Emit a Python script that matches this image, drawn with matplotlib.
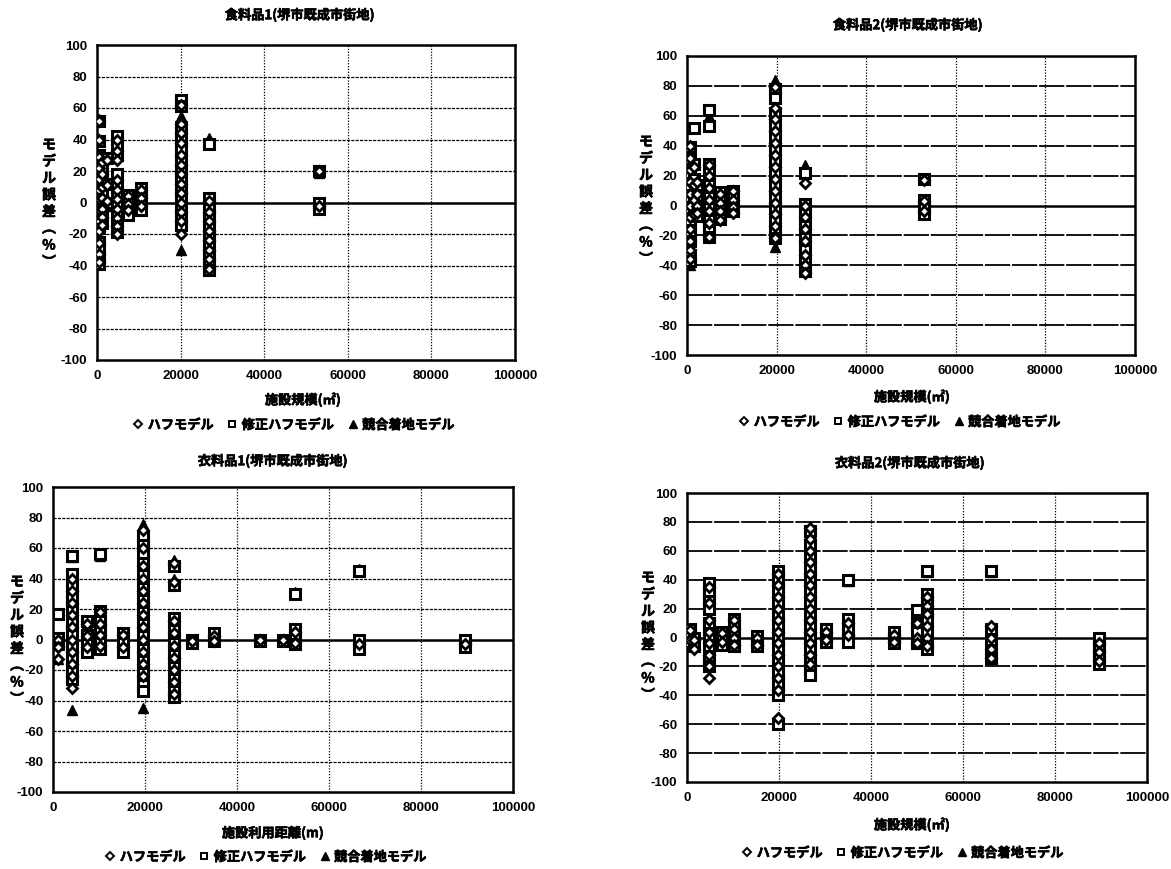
import matplotlib
matplotlib.use("Agg")
import matplotlib.pyplot as plt
from matplotlib.lines import Line2D
import matplotlib.patheffects as pe

plt.rcParams['font.family'] = ['Noto Sans CJK JP', 'DejaVu Sans']
plt.rcParams['font.weight'] = 'bold'

# ---------------- data ----------------
titles = ["食料品1(堺市既成市街地)", "食料品2(堺市既成市街地)",
          "衣料品1(堺市既成市街地)", "衣料品2(堺市既成市街地)"]
xlabels = ["施設規模(㎡)", "施設規模(㎡)", "施設利用距離(m)", "施設規模(㎡)"]
ylabel_chars = ["モ", "デ", "ル", "誤", "差", "︵", "%", "︶"]
series_names = ["ハフモデル", "修正ハフモデル", "競合着地モデル"]
x_ticks = [0, 20000, 40000, 60000, 80000, 100000]
y_ticks = [-100, -80, -60, -40, -20, 0, 20, 40, 60, 80, 100]

# 食料品1
f1_sizes = [400, 1300, 2300, 4800, 7500, 10500, 20000, 26800, 53000]
f1_huff = [[52, 40, 29, 22, 15, 8, 2, -5, -12, -18, -26, -33, -38],
           [26, 18, 10, 3, -4, -9, -14],
           [27, 11, 1],
           [40, 33, 27, 14, 8, 2, -4, -10, -15, -20],
           [4, -1, -5],
           [8, 3, -2],
           [62, 50, 44, 38, 30, 24, 18, 12, 6, 0, -6, -12, -20],
           [1, -6, -12, -18, -24, -30, -36, -42],
           [20, -2]]
f1_mod = [[52, 39, 30, 20, 12, 4, -4, -10, -16, -25, -30, -36, -39],
          [28, 22, 14, 6, 0, -7, -13],
          [28, 12, 0],
          [42, 36, 30, 18, 10, 4, -2, -8, -14, -19],
          [5, 0, -4, -8],
          [9, 4, 0, -5],
          [65, 61, 48, 40, 34, 27, 21, 15, 9, 3, -3, -9, -14],
          [37, 3, -4, -10, -16, -22, -28, -34, -40, -43],
          [20, 0, -4]]
f1_comp = [[53, 28, 14, 0, -16, -38],
           [27, 8, -10],
           [12, -2],
           [18, 6, -6, -12],
           [2, -6],
           [6, -3],
           [55, 46, 36, 20, 8, -4, -30],
           [41, 2, -20, -40],
           [19, -1]]

# 食料品2
f2_sizes = [600, 1500, 2200, 4900, 7400, 10200, 19700, 26300, 53000]
f2_huff = [[40, 32, 24, 16, 8, 0, -8, -16, -24, -30, -36],
           [26, 14, 4, -6],
           [16, 8, 0, -5],
           [27, 20, 12, 4, -4, -12, -21],
           [8, 2, -4, -10],
           [10, 4, -1, -5],
           [79, 65, 58, 50, 42, 34, 26, 18, 10, 2, -6, -14, -22],
           [15, 0, -8, -16, -24, -33, -40, -45],
           [17, 3, -4]]
f2_mod = [[39, 31, 22, 14, 6, -2, -10, -18, -24, -33, -37],
          [52, 28, 18, 6, -2],
          [14, 6, -2, -7],
          [64, 53, 28, 22, 14, 6, -2, -10, -17, -21],
          [9, 3, -3, -9],
          [10, 5, 0, -4],
          [78, 72, 62, 54, 46, 38, 30, 22, 14, 6, -2, -10, -18, -22],
          [22, 1, -6, -14, -22, -30, -38, -44],
          [18, 4, -2, -6]]
f2_comp = [[40, 20, 0, -20, -40],
           [52, 12, -4],
           [12, -3],
           [60, 24, 0, -18],
           [6, -8],
           [8, -3],
           [84, 64, 40, 20, 0, -20, -28],
           [27, -2, -25, -43],
           [18, -3]]

# 衣料品1
c1_sizes = [1000, 4200, 7400, 10300, 15200, 19600, 26400, 30300, 34900,
            45000, 50000, 52500, 66500, 89500]
c1_huff = [[0, -5, -13],
           [40, 32, 24, 16, 8, 0, -8, -16, -24, -32],
           [10, 2, -5],
           [18, 10, 3, -4],
           [3, -5],
           [72, 60, 48, 40, 32, 24, 16, 8, 0, -8, -16, -24],
           [50, 38, 12, 4, -4, -12, -20, -28, -36],
           [-1],
           [2, -1],
           [0],
           [0],
           [5, -2],
           [-3],
           [-3]]
c1_mod = [[17, 1, -3],
          [55, 43, 35, 27, 19, 11, 3, -5, -13, -21, -26],
          [12, 3, -3, -8],
          [56, 19, 12, 5, -2, -6],
          [4, -2, -8],
          [68, 62, 57, 50, 42, 34, 26, 18, 10, 2, -6, -14, -22, -30, -34],
          [48, 36, 14, 6, -2, -10, -18, -26, -34, -38],
          [0, -2],
          [4, -1],
          [0, -1],
          [0, -1],
          [30, 7, 2, -3],
          [45, 0, -6],
          [0, -5]]
c1_comp = [[17, -13],
           [54, 22, 0, -22, -46],
           [11, -7],
           [55, 10, -4],
           [2, -8],
           [76, 66, 52, 41, 20, 0, -20, -45],
           [52, 40, 15, -10, -30],
           [-1],
           [3],
           [-1],
           [-1],
           [31, 5],
           [46, -4],
           [-2]]

# 衣料品2
c2_sizes = [700, 1500, 4800, 7600, 10300, 15300, 19700, 26800, 30300,
            35100, 45000, 50000, 52200, 66000, 89500]
c2_huff = [[5, -2],
           [-2, -8],
           [35, 24, 12, 4, -4, -12, -20, -28],
           [3, -3],
           [12, 6, 0, -5],
           [0, -5],
           [44, 36, 28, 20, 12, 4, -4, -12, -20, -28, -36, -56],
           [76, 68, 60, 52, 44, 36, 28, 20, 12, 4, -4, -12, -18],
           [4, -2],
           [10, 2],
           [2, -3],
           [10, 0, -4],
           [28, 22, 16, 8, 0, -6],
           [8, 0, -8, -14],
           [-4, -10, -16]]
c2_mod = [[6, 2, -3],
          [0, -6],
          [38, 31, 25, 20, 10, 2, -6, -14, -20],
          [4, -1, -5],
          [13, 8, 3, -2, -6],
          [1, -3, -6],
          [46, 40, 32, 24, 16, 8, 0, -8, -16, -24, -32, -40, -60],
          [74, 64, 56, 48, 40, 32, 24, 16, 8, 0, -8, -16, -22, -26],
          [6, 1, -3],
          [40, 13, 6, 0, -3],
          [4, 0, -4],
          [19, 10, 4, -4],
          [46, 30, 24, 19, 12, 4, -4, -8],
          [46, 6, -2, -9, -14],
          [0, -6, -12, -18]]
c2_comp = [[5, -4],
           [-3],
           [37, 10, -10],
           [1],
           [10, -4],
           [-2],
           [45, 20, -10, -38, -60],
           [75, 40, 0, -20],
           [3],
           [39, 8],
           [1],
           [18, 2],
           [45, 20, -5],
           [45, 4, -12],
           [-2, -15]]

panels = [
    (f1_sizes, f1_huff, f1_mod, f1_comp),
    (f2_sizes, f2_huff, f2_mod, f2_comp),
    (c1_sizes, c1_huff, c1_mod, c1_comp),
    (c2_sizes, c2_huff, c2_mod, c2_comp),
]

# ---------------- layout (pixel positions) ----------------
W, H = 1171, 869
boxes = [(97, 515, 45, 360), (687, 1135, 56, 355),
         (53, 513, 487, 792), (687, 1147, 493, 782)]
title_pos = [(300, 15), (908, 25), (273, 461), (910, 463)]
xlabel_pos = [(303, 400), (912, 397), (273, 833), (912, 825)]
legend_pos = [(294, 425), (900, 422), (266, 857), (903, 853)]
ylabel_pos = [(49, 138), (646, 135), (17, 575), (648, 571)]
solid_grid = [False, True, False, True]

bold_fx = [pe.withStroke(linewidth=0.45, foreground='black')]
num_font = dict(family='Liberation Sans', weight='bold', size=9.5)


def flatten(sizes, groups):
    xs, ys = [], []
    for s, g in zip(sizes, groups):
        for v in g:
            xs.append(s)
            ys.append(v)
    return xs, ys


fig = plt.figure(figsize=(W / 100, H / 100), dpi=100)
fig.patch.set_facecolor('white')

for i, (sizes, huff, mod, comp) in enumerate(panels):
    l, r, t, b = boxes[i]
    ax = fig.add_axes([l / W, 1 - b / H, (r - l) / W, (b - t) / H])
    ax.set_xlim(0, 100000)
    ax.set_ylim(-100, 100)
    ax.set_xticks(x_ticks)
    ax.set_yticks(y_ticks)
    ax.set_xticklabels([str(v) for v in x_ticks], **num_font)
    ax.set_yticklabels([str(v) for v in y_ticks], **num_font)
    ax.tick_params(length=0, pad=7)
    for sp in ax.spines.values():
        sp.set_linewidth(1.8)
        sp.set_color('black')

    # grid
    for yv in y_ticks[1:-1]:
        if yv == 0:
            continue
        if solid_grid[i]:
            ax.axhline(yv, color='black', lw=1.3, ls=(0, (14, 1)), zorder=1)
        else:
            ax.axhline(yv, color='black', lw=0.9, ls=(0, (2.5, 1.0)), zorder=1)
    for xv in x_ticks[1:-1]:
        ax.axvline(xv, color='black', lw=0.9, ls=(0, (1, 1.3)), zorder=1)
    ax.axhline(0, color='black', lw=1.8, zorder=2)

    hx, hy = flatten(sizes, huff)
    mx, my = flatten(sizes, mod)
    cx, cy = flatten(sizes, comp)
    ax.plot(cx, cy, ls='none', marker='^', ms=6.5, mfc='black', mec='black',
            mew=1.0, zorder=3)
    ax.plot(mx, my, ls='none', marker='s', ms=6.5, mfc='white', mec='black',
            mew=2.2, zorder=4)
    ax.plot(hx, hy, ls='none', marker='D', ms=5, mfc='white', mec='black',
            mew=2.0, zorder=5)

    fig.text(title_pos[i][0] / W, 1 - title_pos[i][1] / H, titles[i],
             ha='center', va='center', fontsize=9.5, path_effects=bold_fx)
    fig.text(xlabel_pos[i][0] / W, 1 - xlabel_pos[i][1] / H, xlabels[i],
             ha='center', va='center', fontsize=9.5, path_effects=bold_fx)
    fig.text(ylabel_pos[i][0] / W, 1 - ylabel_pos[i][1] / H,
             "\n".join(ylabel_chars),
             ha='center', va='top', fontsize=10, path_effects=bold_fx,
             linespacing=1.25)

    handles = [
        Line2D([], [], ls='none', marker='D', ms=3.8, mfc='white', mec='black', mew=1.4),
        Line2D([], [], ls='none', marker='s', ms=4.8, mfc='white', mec='black', mew=1.4),
        Line2D([], [], ls='none', marker='^', ms=5.5, mfc='black', mec='black'),
    ]
    leg = fig.legend(handles, series_names, loc='center',
                     bbox_to_anchor=(legend_pos[i][0] / W, 1 - legend_pos[i][1] / H),
                     ncol=3, frameon=False, handlelength=0.8,
                     handletextpad=0.3, columnspacing=1.0,
                     prop={'size': 9.5})
    for txt in leg.get_texts():
        txt.set_path_effects(bold_fx)

fig.savefig("out.png", dpi=100, facecolor='white')
